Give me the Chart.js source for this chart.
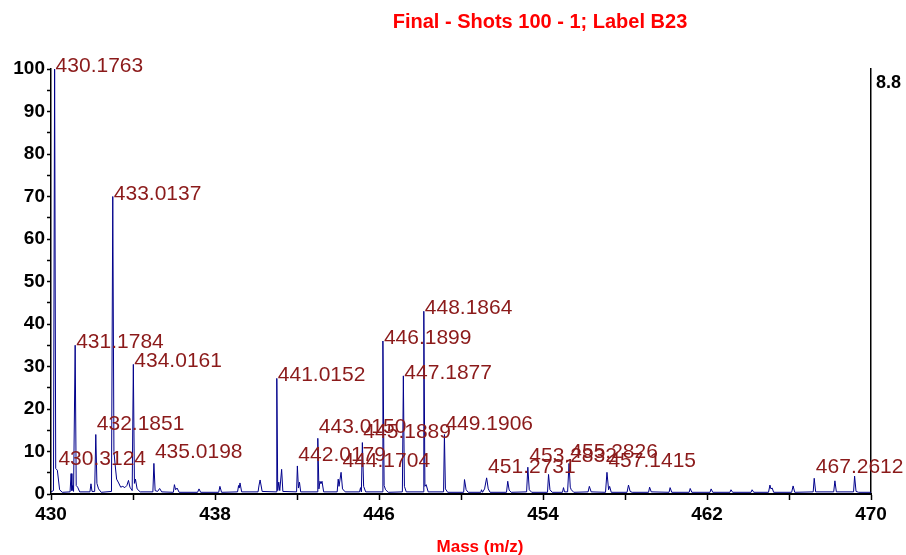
<!DOCTYPE html>
<html>
<head>
<meta charset="utf-8">
<script src="https://cdn.jsdelivr.net/npm/chart.js@4/dist/chart.umd.min.js"></script>
<style>
  html, body { margin: 0; padding: 0; background: #fff; }
  #wrap { width: 906px; height: 555px; }
</style>
</head>
<body>
<div id="wrap"><canvas id="spec" width="906" height="555"></canvas></div>
<script>
// spectrum profile (m/z, relative intensity %)
const mzProfile = [
  430.00, 430.12, 430.1763, 430.23, 430.31, 430.42, 430.55, 430.93, 430.98, 431.02,
  431.06, 431.10, 431.1784, 431.23, 431.30, 431.40, 431.90, 431.95, 432.00, 432.13,
  432.1851, 432.24, 432.32, 432.45, 432.95, 433.0137, 433.07, 433.12, 433.20, 433.30,
  433.40, 433.50, 433.60, 433.70, 433.78, 433.85, 433.96, 434.0161, 434.07, 434.12,
  434.20, 434.35, 434.97, 435.0198, 435.08, 435.20, 435.30, 435.40, 435.97, 436.02,
  436.08, 436.15, 436.25, 437.15, 437.22, 437.30, 438.18, 438.24, 438.32, 439.10,
  439.15, 439.18, 439.22, 439.30, 440.10, 440.15, 440.20, 440.30, 440.98, 441.0152,
  441.06, 441.11, 441.16, 441.25, 441.31, 441.98, 442.0179, 442.07, 442.12, 442.18,
  442.98, 443.0150, 443.07, 443.12, 443.17, 443.22, 443.30, 443.96, 444.01, 444.05,
  444.15, 444.22, 444.35, 445.05, 445.10, 445.14, 445.1889, 445.25, 445.35, 446.15,
  446.1899, 446.25, 446.32, 446.45, 447.14, 447.1877, 447.24, 447.33, 448.15, 448.1864,
  448.24, 448.30, 448.40, 449.15, 449.1906, 449.24, 449.35, 450.13, 450.17, 450.25,
  450.35, 450.97, 451.00, 451.05, 451.15, 451.25, 451.33, 451.42, 452.22, 452.28,
  452.35, 452.45, 453.20, 453.26, 453.33, 453.45, 454.22, 454.27, 454.34, 454.45,
  454.95, 455.00, 455.05, 455.20, 455.27, 455.33, 455.38, 455.50, 456.20, 456.26,
  456.35, 457.05, 457.12, 457.20, 457.25, 457.33, 458.10, 458.17, 458.25, 458.35,
  459.15, 459.20, 459.28, 460.15, 460.20, 460.28, 461.13, 461.18, 461.26, 462.15,
  462.20, 462.28, 463.12, 463.17, 463.25, 464.15, 464.20, 464.28, 465.00, 465.07,
  465.12, 465.18, 465.25, 466.13, 466.20, 466.28, 467.18, 467.23, 467.30, 468.18,
  468.24, 468.31, 469.15, 469.20, 469.27, 469.40, 470.00
];
const intProfile = [
  0.5, 0.8, 100, 6.0, 5.6, 1.0, 0.4, 0.5, 4.8, 0.8,
  2.0, 0.6, 35, 2.0, 1.6, 0.5, 0.5, 2.4, 0.6, 0.6,
  14, 2.5, 1.2, 0.4, 0.6, 70, 10, 7.3, 3.5, 2.6,
  1.6, 1.8, 1.5, 2.0, 3.2, 1.6, 0.8, 30.5, 2.5, 3.5,
  1.2, 0.5, 0.5, 7.2, 0.8, 0.6, 1.3, 0.5, 0.4, 2.2,
  1.0, 1.4, 0.4, 0.4, 1.2, 0.4, 0.4, 1.8, 0.4, 0.5,
  2.0, 1.4, 2.6, 0.5, 0.5, 2.1, 3.3, 0.6, 0.5, 27.2,
  0.8, 2.8, 0.8, 5.8, 0.6, 0.5, 6.6, 1.4, 2.8, 0.5,
  0.5, 13.1, 1.2, 3.0, 2.4, 3.0, 0.5, 0.5, 3.5, 1.8,
  5.1, 1.2, 0.5, 0.5, 1.5, 0.5, 12.1, 1.8, 0.5, 0.5,
  36, 2.0, 1.0, 0.4, 0.5, 27.8, 1.8, 0.5, 0.5, 43,
  1.8, 2.2, 0.5, 0.5, 14, 1.2, 0.4, 0.4, 3.4, 1.0,
  0.4, 0.4, 1.0, 0.4, 1.2, 3.8, 1.2, 0.4, 0.4, 3.0,
  0.9, 0.4, 0.5, 6.3, 1.0, 0.4, 0.4, 4.6, 1.0, 0.4,
  0.4, 1.5, 0.5, 0.5, 7.2, 1.6, 1.0, 0.4, 0.5, 1.8,
  0.5, 0.4, 5.1, 1.0, 1.8, 0.4, 0.4, 2.1, 0.6, 0.4,
  0.4, 1.6, 0.5, 0.4, 1.5, 0.4, 0.4, 1.3, 0.4, 0.4,
  1.2, 0.4, 0.4, 1.0, 0.4, 0.4, 1.0, 0.4, 0.4, 2.1,
  1.2, 1.4, 0.4, 0.4, 1.9, 0.4, 0.5, 3.7, 0.5, 0.5,
  3.1, 0.5, 0.5, 4.2, 0.6, 0.4, 0.4
];

// annotated peaks
const labelMz = [430.1763, 430.3124, 431.1784, 432.1851, 433.0137, 434.0161, 435.0198,
  441.0152, 442.0179, 443.0150, 444.1704, 445.1889, 446.1899, 447.1877, 448.1864,
  449.1906, 451.2731, 453.2832, 455.2826, 457.1415, 467.2612];
const labelInt = [100, 5.6, 35, 14, 70, 30.5, 7.2,
  27.2, 6.6, 13.1, 5.1, 12.1, 36, 27.8, 43,
  14, 3.8, 6.3, 7.2, 5.1, 3.7];

const xTicks = [430, 438, 446, 454, 462, 470];
const yTicks = [0, 10, 20, 30, 40, 50, 60, 70, 80, 90, 100];
const rightMax = 8.8;

const titleText = 'Final - Shots 100 - 1; Label B23';
const xTitle = 'Mass (m/z)';

const FONT = '"Liberation Sans", Arial, sans-serif';

const points = mzProfile.map((m, i) => ({ x: m, y: intProfile[i] }));

const annotate = {
  id: 'annotate',
  afterDatasetsDraw(chart) {
    const ctx = chart.ctx;
    const xs = chart.scales.x, ys = chart.scales.y;
    ctx.save();
    ctx.font = '21px ' + FONT;
    ctx.fillStyle = '#8b1a1a';
    ctx.textAlign = 'left';
    ctx.textBaseline = 'alphabetic';
    labelMz.forEach((m, i) => {
      const px = xs.getPixelForValue(m);
      const py = ys.getPixelForValue(labelInt[i]);
      const dy = labelInt[i] >= 20 ? 3 : -5;
      ctx.fillText(m.toFixed(4), px + 1, py + dy);
    });
    ctx.restore();
  },
  afterDraw(chart) {
    const ctx = chart.ctx;
    const area = chart.chartArea;
    ctx.save();
    ctx.fillStyle = '#ff0000';
    ctx.font = 'bold 20px ' + FONT;
    ctx.textAlign = 'center';
    ctx.textBaseline = 'alphabetic';
    ctx.fillText(titleText, 540, 28);
    ctx.font = 'bold 17px ' + FONT;
    ctx.fillText(xTitle, 480, 552);
    // right axis value
    ctx.fillStyle = '#000';
    ctx.font = 'bold 18px ' + FONT;
    ctx.textAlign = 'left';
    ctx.fillText(String(rightMax), area.right + 5, 88);
    ctx.restore();
  }
};

new Chart(document.getElementById('spec'), {
  type: 'line',
  data: {
    datasets: [{
      data: points,
      borderColor: '#00008b',
      borderWidth: 1,
      pointRadius: 0,
      tension: 0,
      fill: false,
      yAxisID: 'y'
    }]
  },
  options: {
    responsive: false,
    animation: false,
    devicePixelRatio: 1,
    layout: { padding: { top: 69, left: 0, right: 0, bottom: 0 } },
    plugins: { legend: { display: false }, tooltip: { enabled: false } },
    scales: {
      x: {
        type: 'linear',
        min: 430, max: 470,
        position: 'bottom',
        border: { color: '#000', width: 2 },
        grid: { drawOnChartArea: false, tickLength: 6, color: '#000', tickWidth: 1.5 },
        ticks: {
          stepSize: 4,
          autoSkip: false,
          maxRotation: 0,
          padding: 3,
          color: '#000',
          font: { family: FONT, size: 19, weight: 'bold' },
          callback: v => xTicks.includes(v) ? String(v) : ''
        },
        afterFit: s => { s.height = 61; }
      },
      y: {
        min: 0, max: 100,
        position: 'left',
        border: { color: '#000', width: 1.5 },
        grid: { drawOnChartArea: false, tickLength: 4, color: '#000', tickWidth: 1.5 },
        ticks: {
          stepSize: 5,
          autoSkip: false,
          padding: 2,
          color: '#000',
          font: { family: FONT, size: 19, weight: 'bold' },
          callback: v => yTicks.includes(v) ? String(v) : ''
        },
        afterFit: s => { s.width = 51; }
      },
      y2: {
        min: 0, max: rightMax,
        position: 'right',
        border: { color: '#000', width: 1.5 },
        grid: { display: false },
        ticks: { display: false },
        afterFit: s => { s.width = 35; }
      }
    }
  },
  plugins: [annotate]
});
</script>
</body>
</html>
